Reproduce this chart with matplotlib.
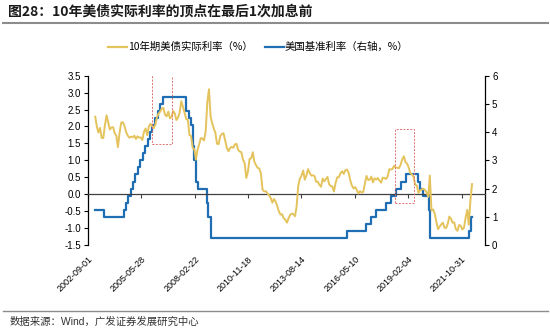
import matplotlib
matplotlib.use("Agg")
import matplotlib.pyplot as plt
import matplotlib.dates as mdates
from matplotlib.patches import Rectangle
import pandas as pd

plt.rcParams['font.family'] = ['Liberation Sans', 'Noto Sans CJK SC', 'DejaVu Sans']

# --- data ---
# 10y TIPS real yield, monthly (Jan 2003 .. May 2022), %
real_rate = [
    2.29, 1.99, 1.82, 1.96, 1.66, 1.66, 2.04, 2.33, 2.12, 1.91, 1.97, 1.98,   # 2003
    1.80, 1.72, 1.39, 1.82, 2.11, 2.13, 2.02, 1.84, 1.73, 1.67, 1.70, 1.68,   # 2004
    1.73, 1.63, 1.71, 1.67, 1.68, 1.60, 1.84, 1.94, 1.74, 2.00, 2.08, 2.01,   # 2005
    1.95, 2.06, 2.27, 2.38, 2.44, 2.53, 2.55, 2.34, 2.30, 2.44, 2.24, 2.28,   # 2006
    2.46, 2.38, 2.19, 2.26, 2.41, 2.75, 2.59, 2.41, 2.22, 2.20, 1.75, 1.72,   # 2007
    1.37, 1.33, 1.02, 1.32, 1.47, 1.66, 1.64, 1.59, 1.87, 2.72, 3.10, 2.29,   # 2008
    2.09, 1.93, 1.81, 1.49, 1.48, 1.72, 1.78, 1.80, 1.58, 1.37, 1.27, 1.36,   # 2009
    1.40, 1.37, 1.47, 1.49, 1.31, 1.26, 1.24, 1.02, 0.91, 0.48, 0.67, 1.04,   # 2010
    1.06, 1.24, 0.96, 0.86, 0.78, 0.76, 0.62, 0.14, 0.08, 0.09, 0.03, -0.03,  # 2011
    -0.11, -0.25, -0.14, -0.21, -0.34, -0.50, -0.60, -0.59, -0.71, -0.75, -0.84, -0.71,  # 2012
    -0.61, -0.57, -0.59, -0.65, -0.36, 0.25, 0.46, 0.55, 0.70, 0.43, 0.55, 0.74,  # 2013
    0.63, 0.55, 0.56, 0.54, 0.37, 0.37, 0.28, 0.22, 0.46, 0.38, 0.45, 0.51,   # 2014
    0.29, 0.24, 0.23, 0.08, 0.33, 0.50, 0.50, 0.62, 0.68, 0.60, 0.71, 0.73,   # 2015
    0.63, 0.41, 0.26, 0.17, 0.21, 0.13, 0.02, 0.09, 0.05, 0.07, 0.32, 0.54,   # 2016
    0.42, 0.43, 0.52, 0.35, 0.47, 0.43, 0.48, 0.40, 0.34, 0.49, 0.48, 0.45,   # 2017
    0.52, 0.74, 0.73, 0.74, 0.84, 0.79, 0.78, 0.77, 0.87, 1.03, 1.12, 0.95,   # 2018
    0.90, 0.78, 0.62, 0.59, 0.51, 0.28, 0.26, 0.04, 0.11, 0.14, 0.16, 0.13,   # 2019
    0.05, -0.08, 0.55, -0.48, -0.45, -0.57, -0.81, -1.03, -0.96, -0.89, -0.84, -0.99,  # 2020
    -1.00, -0.87, -0.66, -0.72, -0.84, -0.83, -1.03, -1.08, -0.91, -0.93, -1.04, -0.99,  # 2021
    -0.69, -0.46, -0.90, -0.18, 0.30,                                          # 2022
]
real_dates = pd.date_range('2003-01-01', periods=len(real_rate), freq='MS') + pd.Timedelta(days=14)

# Fed funds target (upper bound), %
fed_dates = pd.to_datetime([
    '2003-01-15', '2003-06-25', '2004-06-30', '2004-08-10', '2004-09-21', '2004-11-10',
    '2004-12-14', '2005-02-02', '2005-03-22', '2005-05-03', '2005-06-30', '2005-08-09',
    '2005-09-20', '2005-11-01', '2005-12-13', '2006-01-31', '2006-03-28', '2006-05-10',
    '2006-06-29', '2007-09-18', '2007-10-31', '2007-12-11', '2008-01-22', '2008-01-30',
    '2008-03-18', '2008-04-30', '2008-10-08', '2008-10-29', '2008-12-16', '2015-12-16',
    '2016-12-14', '2017-03-15', '2017-06-14', '2017-12-13', '2018-03-21', '2018-06-13',
    '2018-09-26', '2018-12-19', '2019-07-31', '2019-09-18', '2019-10-30', '2020-03-03',
    '2020-03-15', '2022-03-16', '2022-05-04', '2022-05-20',
])
fed_rates = [
    1.25, 1.00, 1.25, 1.50, 1.75, 2.00,
    2.25, 2.50, 2.75, 3.00, 3.25, 3.50,
    3.75, 4.00, 4.25, 4.50, 4.75, 5.00,
    5.25, 4.75, 4.50, 4.25, 3.50, 3.00,
    2.25, 2.00, 1.50, 1.00, 0.25, 0.50,
    0.75, 1.00, 1.25, 1.50, 1.75, 2.00,
    2.25, 2.50, 2.25, 2.00, 1.75, 1.25,
    0.25, 0.50, 1.00, 1.00,
]

tick_labels = ['2002-09-01', '2005-05-28', '2008-02-22', '2010-11-18',
               '2013-08-14', '2016-05-10', '2019-02-04', '2021-10-31']

# highlight boxes: (start, end, low, high) on left axis
boxes = [('2005-12-22', '2006-12-15', 1.48, 3.61),
         ('2018-06-04', '2019-05-28', -0.26, 1.93)]

YELLOW = '#E5C35C'
BLUE = '#1F6DB2'

fig = plt.figure(figsize=(5.5, 3.32), dpi=100)
ax = fig.add_axes([0.16, 0.262, 0.722, 0.51])
ax2 = ax.twinx()

ax.plot(real_dates, real_rate, color=YELLOW, lw=1.4, zorder=3)
ax2.step(fed_dates, fed_rates, where='post', color=BLUE, lw=1.6, zorder=4)
ax.set_zorder(ax2.get_zorder() + 1)
ax.patch.set_visible(False)

for s, e, lo, hi in boxes:
    x0 = mdates.date2num(pd.Timestamp(s))
    x1 = mdates.date2num(pd.Timestamp(e))
    ax.add_patch(Rectangle((x0, lo), x1 - x0, hi - lo, fill=False,
                           edgecolor='#E07070', lw=0.7, ls=(0, (2, 1.5)), zorder=5))

tick_dates = [mdates.date2num(pd.Timestamp(t)) for t in tick_labels]
x_start = tick_dates[0]
x_end = mdates.date2num(pd.Timestamp('2023-01-15'))
ax.set_xlim(x_start, x_end)
ax.set_ylim(-1.5, 3.5)
ax2.set_ylim(0, 6)

ax.set_yticks([-1.5 + 0.5 * i for i in range(11)])
ax.set_yticklabels([f'{-1.5 + 0.5 * i:.1f}' for i in range(11)])
ax2.set_yticks(range(7))

# x axis line at zero with small ticks, labels at bottom
ax.spines['bottom'].set_position(('data', 0))
ax.spines['bottom'].set_color('#404040')
ax.spines['top'].set_visible(False)
ax.spines['right'].set_visible(False)
ax2.spines['top'].set_visible(False)
ax2.spines['bottom'].set_visible(False)
ax2.spines['left'].set_visible(False)
ax.set_xticks(tick_dates)
ax.tick_params(axis='x', direction='out', length=3, width=0.8, color='#404040', labelbottom=False)
ax.tick_params(axis='y', direction='out', length=3, width=0.8, labelsize=7, pad=2)
ax2.tick_params(axis='y', direction='out', length=3, width=0.8, labelsize=7, pad=2)
for a in (ax, ax2):
    for sp in a.spines.values():
        sp.set_linewidth(0.9)

sec = ax.secondary_xaxis(0)
sec.spines['bottom'].set_visible(False)
sec.set_xticks(tick_dates)
sec.set_xticklabels(tick_labels, rotation=45, ha='right', rotation_mode='anchor', fontsize=6.5)
sec.tick_params(axis='x', length=0, pad=7)

# legend
fig.lines.append(plt.Line2D([108 / 550, 127 / 550], [1 - 47 / 332] * 2, color=YELLOW, lw=1.6,
                            transform=fig.transFigure))
fig.text(128 / 550, 1 - 47 / 332, '10年期美债实际利率（%）', fontsize=7.5, va='center', ha='left',
         family=['Noto Sans CJK SC', 'DejaVu Sans'])
fig.lines.append(plt.Line2D([265 / 550, 284 / 550], [1 - 47 / 332] * 2, color=BLUE, lw=1.6,
                            transform=fig.transFigure))
fig.text(285 / 550, 1 - 47 / 332, '美国基准利率（右轴，%）', fontsize=7.5, va='center', ha='left',
         family=['Noto Sans CJK SC', 'DejaVu Sans'])

# title and footer
fig.text(8 / 550, 1 - 12 / 332, '图28：10年美债实际利率的顶点在最后1次加息前', fontsize=10,
         fontweight='bold', va='center', ha='left', color='#1a1a1a',
         family=['Noto Sans CJK SC', 'DejaVu Sans'])
fig.lines.append(plt.Line2D([3 / 550, 548 / 550], [1 - 23 / 332] * 2, color='#8c8c8c', lw=1.5,
                            transform=fig.transFigure))
fig.lines.append(plt.Line2D([3 / 550, 548 / 550], [1 - 311 / 332] * 2, color='#8c8c8c', lw=1.0,
                            transform=fig.transFigure))
fig.text(10 / 550, 1 - 322 / 332, '数据来源：Wind，广发证券发展研究中心', fontsize=7.5,
         va='center', ha='left', color='#333333')

fig.savefig('out.png', dpi=100)
